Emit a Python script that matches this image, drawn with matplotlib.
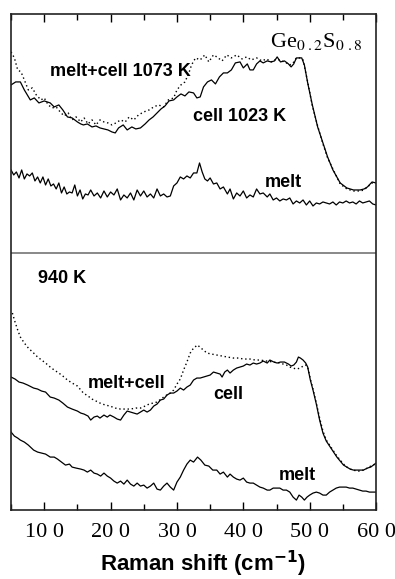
import matplotlib
matplotlib.use("Agg")
import matplotlib.pyplot as plt
from matplotlib.ticker import FixedLocator, MultipleLocator

# Raman spectra of Ge0.2S0.8, intensities in arbitrary (offset) units

# upper panel: 1023 K cell, 1073 K melt+cell, melt
x_cell_hi = [50, 57, 64, 70, 79, 85, 92, 100, 109, 115, 122, 128, 135, 142, 150, 155,
             159, 165, 172, 178, 184, 190, 196, 202, 207, 212, 219, 225, 232, 238, 245,
             252, 258, 264, 270, 276, 282, 288, 295, 300, 306, 312, 318, 325, 330, 335,
             340, 346, 352, 358, 364, 370, 376, 382, 388, 395, 400, 406, 410, 415, 420,
             425, 430, 436, 442, 447, 451, 456, 462, 468, 472, 476, 480, 484, 488, 492,
             497, 504, 512, 520, 527, 535, 546, 556, 566, 576, 582, 587, 594, 600]
y_cell_hi = [425, 428, 428, 420, 410, 412, 407, 409, 407, 403, 405, 400, 393, 392, 388, 386,
             385, 386, 383, 384, 382, 381, 380, 378, 377, 382, 385, 380, 383, 381, 382,
             386, 390, 393, 397, 401, 404, 409, 410, 413, 416, 414, 418, 417, 412, 413,
             423, 428, 430, 426, 433, 437, 437, 440, 447, 448, 442, 446, 440, 440, 446,
             449, 447, 449, 448, 449, 453, 448, 449, 446, 443, 446, 452, 452, 452, 445,
             427, 405, 383, 367, 353, 340, 327, 322, 320, 320, 321, 323, 328, 327]

x_mix_hi = [50, 55, 60, 65, 70, 76, 82, 88, 95, 100, 106, 112, 118, 124, 130, 136, 142,
            148, 155, 160, 166, 172, 178, 184, 190, 196, 202, 208, 215, 222, 228, 235,
            242, 250, 258, 265, 272, 280, 287, 295, 300, 306, 312, 318, 322, 328, 335,
            342, 348, 355, 360, 368, 375, 382, 390, 398, 405, 412, 420, 428, 435, 442,
            450, 458, 465, 470, 475, 480, 485, 490, 497, 504, 512, 520, 527, 535, 546,
            556, 566, 576, 582, 587, 594, 600]
y_mix_hi = [458, 452, 440, 438, 430, 420, 422, 415, 410, 412, 405, 402, 403, 398, 394, 397,
            390, 393, 388, 392, 386, 390, 385, 390, 388, 387, 385, 387, 390, 388, 393, 390,
            395, 398, 400, 403, 405, 403, 410, 412, 420, 425, 428, 437, 445, 452, 450,
            455, 448, 455, 453, 449, 455, 452, 455, 451, 453, 450, 452, 449, 451, 448,
            451, 449, 447, 445, 447, 452, 452, 450, 428, 404, 384, 366, 352, 341, 326,
            321, 319, 319, 320, 323, 327, 327]

x_melt_hi = [50, 54, 58, 62, 66, 70, 74, 78, 82, 86, 90, 94, 98, 102, 106, 110, 114, 118,
             122, 126, 130, 134, 138, 142, 146, 150, 154, 158, 162, 166, 170, 175, 180,
             185, 190, 195, 200, 205, 210, 215, 220, 225, 230, 235, 240, 245, 250, 255,
             260, 265, 270, 275, 280, 285, 290, 295, 300, 305, 310, 315, 320, 325, 330,
             334, 338, 342, 346, 350, 355, 360, 365, 370, 376, 380, 385, 390, 395, 400,
             405, 410, 415, 420, 425, 430, 436, 440, 445, 450, 455, 460, 465, 470, 475,
             480, 485, 490, 495, 500, 505, 510, 515, 520, 525, 530, 535, 540, 545, 550,
             555, 560, 565, 570, 575, 580, 585, 590, 595, 600]
y_melt_hi = [340, 335, 338, 332, 340, 331, 336, 334, 337, 329, 333, 327, 333, 325, 331, 324,
             326, 321, 327, 317, 323, 316, 318, 317, 325, 314, 320, 311, 316, 315, 320, 314,
             317, 312, 319, 313, 318, 315, 321, 310, 315, 312, 317, 310, 320, 314, 319,
             313, 316, 312, 321, 314, 316, 313, 314, 324, 327, 333, 331, 334, 332, 337,
             337, 347, 338, 331, 329, 332, 326, 327, 321, 323, 316, 321, 311, 317, 314,
             319, 312, 315, 313, 321, 316, 317, 313, 316, 310, 312, 309, 311, 310, 312,
             306, 309, 307, 310, 305, 309, 304, 307, 306, 308, 307, 306, 308, 305, 308,
             307, 309, 307, 308, 306, 309, 307, 308, 309, 306, 305]

# lower panel: 940 K
x_cell_lo = [50, 56, 62, 68, 75, 84, 90, 96, 102, 109, 115, 122, 128, 135, 142, 150, 155,
             160, 166, 170, 175, 180, 184, 190, 195, 199, 205, 210, 215, 220, 225, 230,
             235, 240, 245, 250, 255, 260, 265, 270, 275, 280, 285, 290, 295, 300, 305,
             310, 315, 320, 325, 330, 335, 340, 345, 350, 355, 360, 365, 368, 372, 376,
             380, 385, 390, 395, 400, 405, 410, 415, 420, 425, 430, 436, 440, 446, 451,
             456, 462, 468, 472, 476, 480, 483, 486, 490, 494, 497, 501, 505, 510, 515,
             520, 525, 531, 536, 541, 546, 551, 556, 561, 566, 571, 576, 581, 587, 592,
             596, 600]
y_cell_lo = [133, 131, 128, 127, 125, 122, 121, 119, 118, 113, 112, 110, 107, 103, 101, 99,
             97, 96, 94, 90, 93, 94, 92, 95, 93, 95, 93, 91, 90, 95, 99, 98, 97, 96, 98,
             100, 98, 100, 104, 106, 110, 111, 115, 117, 117, 119, 122, 120, 123, 125,
             130, 132, 132, 133, 134, 135, 138, 137, 136, 133, 138, 140, 137, 140, 142,
             143, 144, 146, 145, 147, 146, 147, 149, 147, 150, 148, 147, 148, 148, 146,
             144, 145, 148, 153, 152, 150, 147, 143, 130, 120, 106, 90, 77, 69, 63, 58,
             53, 49, 45, 43, 41, 40, 40, 40, 40, 42, 43, 45, 47]

x_mix_lo = [52, 56, 60, 64, 70, 76, 84, 90, 96, 102, 109, 115, 122, 128, 135, 142, 150,
            159, 166, 172, 178, 184, 192, 199, 207, 215, 222, 230, 238, 245, 252, 258,
            264, 270, 276, 282, 290, 295, 300, 305, 310, 315, 320, 325, 331, 336, 340,
            345, 352, 360, 368, 376, 385, 393, 400, 410, 418, 425, 435, 445, 455, 465,
            470, 475, 480, 486, 490, 494, 497, 501, 505, 510, 515, 520, 525, 531, 536,
            541, 546, 551, 556, 561, 566, 571, 576, 581, 587, 592, 596, 600]
y_mix_lo = [197, 188, 180, 173, 167, 162, 157, 153, 150, 147, 143, 140, 137, 134, 130, 127,
            124, 117, 114, 111, 109, 107, 105, 104, 102, 101, 101, 101, 102, 102, 104,
            106, 107, 108, 111, 114, 117, 120, 126, 131, 140, 148, 157, 162, 165, 162,
            160, 157, 156, 155, 154, 153, 152, 152, 151, 151, 150, 150, 149, 148, 147,
            145, 143, 142, 141, 142, 144, 145, 143, 131, 121, 107, 92, 79, 70, 64, 59,
            54, 50, 46, 43, 41, 40, 39, 39, 40, 42, 44, 45, 47]

x_melt_lo = [50, 55, 60, 64, 70, 76, 84, 90, 96, 102, 109, 115, 120, 126, 132, 138, 142,
             148, 155, 160, 165, 170, 175, 180, 185, 190, 195, 200, 205, 210, 215, 220,
             225, 230, 235, 240, 245, 250, 255, 260, 265, 270, 275, 280, 285, 290, 295,
             300, 305, 310, 315, 320, 325, 331, 336, 342, 348, 354, 360, 365, 370, 376,
             380, 385, 390, 395, 400, 405, 410, 415, 420, 425, 430, 436, 440, 445, 450,
             455, 460, 465, 470, 475, 480, 484, 488, 492, 496, 500, 505, 510, 515, 520,
             525, 530, 535, 540, 545, 550, 555, 560, 565, 570, 575, 580, 585, 590, 595,
             600]
y_melt_lo = [78, 74, 72, 70, 68, 65, 60, 58, 57, 56, 53, 53, 51, 48, 45, 46, 43, 42, 41, 40,
             38, 40, 37, 36, 34, 37, 34, 32, 29, 27, 29, 26, 30, 26, 24, 27, 24, 25, 22,
             24, 27, 21, 20, 24, 27, 23, 20, 28, 33, 40, 46, 50, 48, 53, 50, 45, 44, 40,
             40, 36, 38, 33, 36, 33, 31, 30, 32, 28, 27, 27, 25, 23, 22, 20, 20, 22, 22,
             22, 20, 20, 18, 13, 10, 15, 13, 10, 13, 15, 17, 18, 17, 15, 15, 18, 20, 22,
             23, 23, 23, 22, 22, 21, 20, 19, 19, 18, 18, 18]

tick_pos = [100, 200, 300, 400, 500, 600]
tick_labels = ["10 0", "20 0", "30 0", "40 0", "50 0", "60 0"]

plt.rcParams["font.family"] = ["Liberation Sans", "DejaVu Sans"]

fig = plt.figure(figsize=(3.95, 5.79), dpi=100)
ax = fig.add_axes([0.028, 0.119, 0.924, 0.857])

solid = dict(color="black", lw=0.9)
dotted = dict(color="black", lw=1.0, linestyle=(0, (1, 2)))

ax.plot(x_cell_hi, y_cell_hi, **solid)
ax.plot(x_mix_hi, y_mix_hi, **dotted)
ax.plot(x_melt_hi, y_melt_hi, **solid)
ax.plot(x_cell_lo, y_cell_lo, **solid)
ax.plot(x_mix_lo, y_mix_lo, **dotted)
ax.plot(x_melt_lo, y_melt_lo, **solid)

# separator between the two temperature groups
ax.axhline(257, color="#888888", lw=1.4)

ax.set_xlim(50, 600)
ax.set_ylim(0, 496)
ax.set_yticks([])

ax.xaxis.set_major_locator(FixedLocator(tick_pos))
ax.xaxis.set_minor_locator(MultipleLocator(50))
ax.set_xticklabels(tick_labels, family="Liberation Serif", fontsize=16)
ax.tick_params(axis="x", which="both", direction="in", top=True, bottom=True)
ax.tick_params(axis="x", which="major", length=6, width=1)
ax.tick_params(axis="x", which="minor", length=4, width=1)
ax.tick_params(axis="x", pad=9)
for s in ax.spines.values():
    s.set_linewidth(1.2)
    s.set_color("#222222")

ax.set_xlabel("Raman shift (cm$^{\\mathbf{-1}}$)", fontsize=16, fontweight="bold",
              labelpad=5)
ax.xaxis.label.set_x(0.527)

bold = dict(fontsize=13, fontweight="bold", va="center")
ax.text(109, 438, "melt+cell 1073 K", ha="left", **bold)
ax.text(324, 393, "cell 1023 K", ha="left", **bold)
ax.text(433, 327, "melt", ha="left", **bold)
ax.text(91, 232, "940 K", ha="left", **bold)
ax.text(165, 127, "melt+cell", ha="left", **bold)
ax.text(354, 116, "cell", ha="left", **bold)
ax.text(454, 35, "melt", ha="left", **bold)

ax.text(579, 468, "Ge$_{0\\ .2}$S$_{0\\ .8}$", ha="right", va="center",
        family="Liberation Serif", fontsize=16, math_fontfamily="stix")

fig.savefig("out.png", dpi=100)
